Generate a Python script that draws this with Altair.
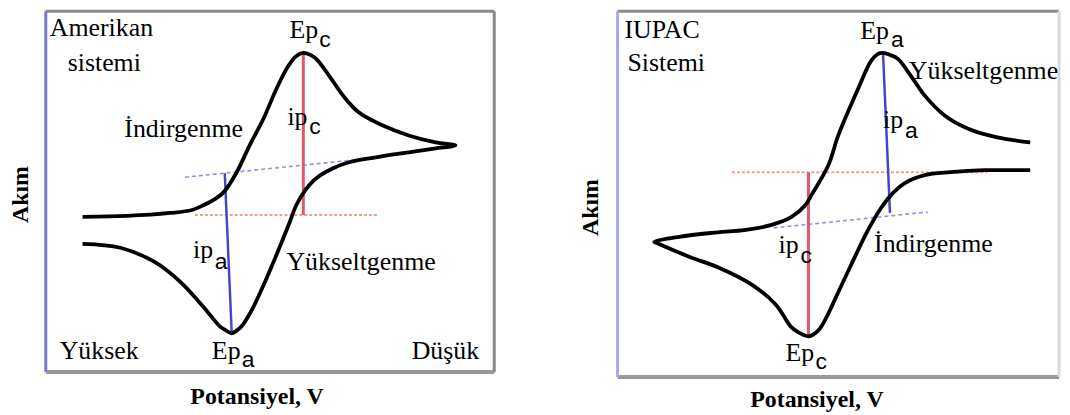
import altair as alt
import pandas as pd

# ---------------- Left panel: "Amerikan sistemi" ----------------
am_E = [37, 82, 125, 147, 159, 170, 179, 192, 205, 219, 232, 244, 252, 259, 266, 272, 285, 299, 315, 339, 365, 392, 412,
        392, 365, 332, 305, 289, 272, 261, 252, 245, 237, 227, 217, 207, 197, 191, 187, 181, 175, 159, 135, 109, 75, 37]
am_I = [156, 157, 160, 163, 168, 174, 181, 201, 228, 255, 285, 308, 318, 321, 319, 315, 298, 278, 261, 248, 238, 231, 228,
        225, 221, 216, 211, 205, 195, 183, 168, 150, 130, 106, 83, 62, 46, 41, 39, 42, 46, 65, 91, 111, 125, 129]
am_red_dash = {"E": [150], "I": [158], "E2": [334], "I2": [158]}
am_blue_dash = {"E": [140], "I": [196], "E2": [307], "I2": [213]}
am_red_solid = {"E": [259], "I": [158], "E2": [259], "I2": [321]}
am_blue_solid = {"E": [180], "I": [200], "E2": [187], "I2": [39]}
am_text = ["Amerikan", "sistemi", "İndirgenme", "Yükseltgenme", "Yüksek", "Düşük", "Ep", "ip", "ip", "Ep"]
am_text_E = [4, 22, 79, 242, 14, 368, 245, 243, 148, 167]
am_text_I = [338, 303, 236, 103, 13, 13, 336, 248, 115, 13]
am_sub = ["c", "c", "a", "a"]
am_sub_E = [275, 265, 170, 197]
am_sub_I = [327, 239, 104, 5]

# ---------------- Right panel: "IUPAC Sistemi" ----------------
iu_E = [415, 369, 335, 309, 289, 275, 265, 252, 235, 220, 209, 202, 192, 182, 175, 159, 135, 102, 72, 39, 37,
        62, 95, 129, 155, 175, 189, 195, 212, 222, 242, 255, 262, 267, 274, 282, 295, 309, 329, 352, 382, 415]
iu_I = [208, 208, 206, 203, 195, 183, 170, 148, 113, 81, 58, 47, 41, 45, 50, 73, 93, 110, 121, 135, 136,
        141, 145, 148, 153, 161, 173, 183, 213, 243, 290, 318, 325, 326, 324, 320, 303, 283, 263, 250, 241, 236]
iu_red_dash = {"E": [115], "I": [206], "E2": [372], "I2": [206]}
iu_blue_dash = {"E": [157], "I": [150], "E2": [312], "I2": [166]}
iu_red_solid = {"E": [192], "I": [206], "E2": [192], "I2": [41]}
iu_blue_solid = {"E": [267], "I": [326], "E2": [274], "I2": [165]}
iu_text = ["IUPAC", "Sistemi", "Yükseltgenme", "İndirgenme", "Ep", "ip", "ip", "Ep"]
iu_text_E = [7, 10, 293, 258, 244, 267, 162, 169]
iu_text_I = [341, 308, 300, 126, 340, 250, 125, 16]
iu_sub = ["a", "a", "c", "c"]
iu_sub_E = [275, 289, 184, 199]
iu_sub_I = [332, 240, 115, 8]

SERIF = "Liberation Serif"
SANS = "Liberation Sans"


def panel(E, I, red_dash, blue_dash, red_solid, blue_solid, texts, tE, tI, subs, sE, sI,
          width, height, tx, ty, yx, yy, left_color, right_color):
    xs = alt.Scale(domain=[0, width], nice=False, zero=False)
    ys = alt.Scale(domain=[0, height], nice=False, zero=False)
    xax = alt.Axis(title="Potansiyel, V", labels=False, ticks=False, domain=False, grid=False,
                   titleFont=SERIF, titleFontSize=24, titleFontWeight="bold", titleColor="black",
                   titleX=tx, titleY=ty, titleAlign="center", titleBaseline="alphabetic")
    yax = alt.Axis(title="Akım", labels=False, ticks=False, domain=False, grid=False,
                   titleFont=SERIF, titleFontSize=24, titleFontWeight="bold", titleColor="black",
                   titleX=yx, titleY=yy, titleAlign="center", titleBaseline="alphabetic", titleAngle=270)

    curve = pd.DataFrame({"E": E, "I": I, "o": list(range(len(E)))})
    base_line = alt.Chart(curve).mark_line(color="black", strokeWidth=3.8, interpolate="catmull-rom").encode(
        x=alt.X("E:Q", scale=xs, axis=xax),
        y=alt.Y("I:Q", scale=ys, axis=yax),
        order="o:Q",
    )

    def seg(d, color, width_, dash=None, opacity=1.0):
        kw = dict(color=color, strokeWidth=width_, opacity=opacity)
        if dash:
            kw["strokeDash"] = dash
        return alt.Chart(pd.DataFrame(d)).mark_rule(**kw).encode(
            x=alt.X("E:Q", scale=xs), y=alt.Y("I:Q", scale=ys),
            x2="E2:Q", y2="I2:Q")

    rd = seg(red_dash, "#f08a8a", 2, [3, 2], 0.85)
    bd = seg(blue_dash, "#7d7dd6", 1.6, [4, 3], 0.85)
    rs = seg(red_solid, "#e0586a", 3)
    bs = seg(blue_solid, "#4646c4", 2.5)

    one = pd.DataFrame({"v": [0]})
    frame_top = alt.Chart(one).mark_rule(color="#8a8a8a", strokeWidth=3).encode(
        x=alt.value(0), x2=alt.value(width), y=alt.value(0))
    frame_bottom = alt.Chart(one).mark_rule(color="#999999", strokeWidth=4).encode(
        x=alt.value(0), x2=alt.value(width), y=alt.value(height))
    frame_right = alt.Chart(one).mark_rule(color=right_color, strokeWidth=3).encode(
        x=alt.value(width), y=alt.value(0), y2=alt.value(height))
    frame_left = alt.Chart(one).mark_rule(color=left_color, strokeWidth=3).encode(
        x=alt.value(0), y=alt.value(0), y2=alt.value(height))

    lab = alt.Chart(pd.DataFrame({"t": texts, "E": tE, "I": tI})).mark_text(
        align="left", baseline="alphabetic", font=SERIF, fontSize=26, color="black").encode(
        x=alt.X("E:Q", scale=xs), y=alt.Y("I:Q", scale=ys), text="t:N")
    sub = alt.Chart(pd.DataFrame({"t": subs, "E": sE, "I": sI})).mark_text(
        align="left", baseline="alphabetic", font=SANS, fontSize=23, color="black").encode(
        x=alt.X("E:Q", scale=xs), y=alt.Y("I:Q", scale=ys), text="t:N")

    return alt.layer(rd, bd, rs, bs, base_line, frame_top, frame_bottom, frame_right, frame_left,
                     lab, sub).properties(width=width, height=height)


left = panel(am_E, am_I, am_red_dash, am_blue_dash, am_red_solid, am_blue_solid,
             am_text, am_text_E, am_text_I, am_sub, am_sub_E, am_sub_I,
             451, 363, 212, 32, -18, 184, "#7a7ad0", "#8a8a8a")
right = panel(iu_E, iu_I, iu_red_dash, iu_blue_dash, iu_red_solid, iu_blue_solid,
              iu_text, iu_text_E, iu_text_I, iu_sub, iu_sub_E, iu_sub_I,
              444, 368, 200, 30, -20, 197, "#a8a8f0", "#d8d8d8")

chart = alt.hconcat(left, right, spacing=81).properties(padding=0).configure_view(
    stroke=None).configure(background="white")

chart.save("out.html", embed_options={"renderer": "svg", "actions": False})
